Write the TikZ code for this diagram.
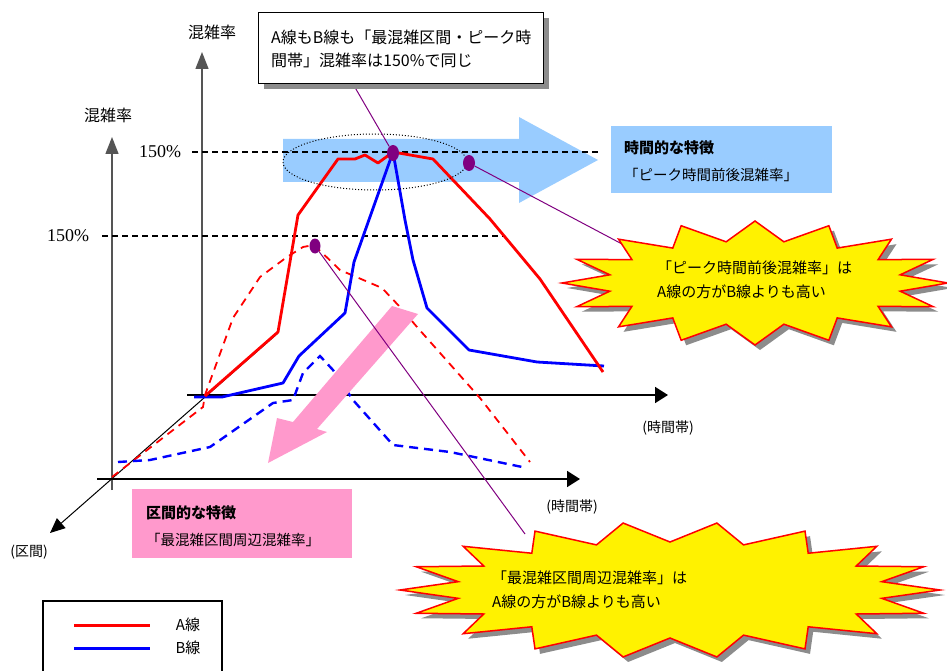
\documentclass[tikz,border=0pt]{standalone}
\usepackage{fontspec}
\setmainfont{Liberation Serif}
\newfontfamily\jpfont{Noto Sans CJK JP}
\usetikzlibrary{shapes.geometric,arrows.meta}
\definecolor{skyfill}{RGB}{153,204,255}
\definecolor{pinkfill}{RGB}{255,153,204}
\definecolor{markpurple}{RGB}{128,0,128}
\definecolor{axisgray}{RGB}{85,85,85}
\definecolor{shadowgray}{RGB}{140,140,140}
\tikzset{
  txt/.style={inner sep=0pt, anchor=west, font=\jpfont\fontsize{15}{19}\selectfont},
  boxtxt/.style={inner sep=0pt, anchor=west, font=\jpfont\fontsize{14.5}{18}\selectfont},
  axislbl/.style={inner sep=0pt, font=\jpfont\fontsize{16}{19}\selectfont},
  catlbl/.style={inner sep=0pt, font=\jpfont\fontsize{14}{17}\selectfont},
  pct/.style={inner sep=0pt, font=\rmfamily\fontsize{18}{20}\selectfont},
  vaxis/.style={draw=axisgray, line width=1.4pt, -{Triangle[length=17pt,width=13pt]}},
  haxis/.style={draw=black, line width=1.8pt, -{Triangle[length=13pt,width=16pt]}},
  daxis/.style={draw=black, line width=1pt, -{Triangle[length=15pt,width=13pt]}},
  levelline/.style={draw=black, line width=1.3pt, dash pattern=on 6pt off 4pt},
  lineA/.style={draw=red, line width=2.8pt, line join=round},
  lineB/.style={draw=blue, line width=2.8pt, line join=round},
  lineAd/.style={draw=red, line width=1.8pt, dash pattern=on 8pt off 6pt},
  lineBd/.style={draw=blue, line width=2.4pt, dash pattern=on 9pt off 6pt},
  marker/.style={ellipse, fill=markpurple, inner sep=0pt, minimum width=12pt, minimum height=16pt},
  leader/.style={draw=markpurple, line width=1pt},
  burst/.style={fill=yellow, draw=red, line width=1.5pt, line join=miter},
  burstshadow/.style={fill=shadowgray},
}
\begin{document}
\begin{tikzpicture}[x=1pt,y=-1pt]
\useasboundingbox (0,0) rectangle (947,671);

% wide blue arrow behind the back plane
\fill[skyfill] (283,139) -- (519,139) -- (519,117) -- (598,160) -- (519,203) -- (519,182) -- (283,182) -- cycle;

% back plane axes
\draw[vaxis] (202,397) -- (202,52);
\draw[haxis] (187,395) -- (668,395);
\draw[levelline] (192,152) -- (598,152);
% front plane axes
\draw[vaxis] (112,490) -- (112,137);
\draw[haxis] (97,479) -- (580,479);
\draw[levelline] (102,236) -- (503,236);
% depth axis
\draw[daxis] (278,333) -- (50,533);

% axis labels
\node[axislbl] (ylabback) at (212,32) {混雑率};
\node[axislbl] (ylabfront) at (108,115) {混雑率};
\node[pct] (pctback) at (160,152) {150\%};
\node[pct] (pctfront) at (68,236) {150\%};
\node[catlbl] (timeback) at (668,428) {(時間帯)};
\node[catlbl] (timefront) at (572,507) {(時間帯)};
\node[catlbl] (section) at (29,552) {(区間)};

% front plane curves (dashed)
\draw[lineAd] (112,477) -- (203,407) -- (205,395) -- (213,373) -- (233,318) -- (260,277) -- (287,257) -- (303,247) -- (314,245) -- (340,270) -- (382,288) -- (400,307) -- (417,327) -- (480,398) -- (530,462);
\draw[lineBd] (118,462) -- (150,460) -- (210,447) -- (223,438) -- (273,403) -- (293,400) -- (303,373) -- (320,356) -- (333,370) -- (353,400) -- (393,445) -- (450,452) -- (527,468);

% back plane curves (solid)
\draw[lineB] (194,397) -- (222,397) -- (283,383) -- (299,356) -- (345,313) -- (354,262) -- (393,152) -- (405,220) -- (413,260) -- (427,308) -- (469,350) -- (537,362) -- (604,366);
\draw[lineA] (205,396) -- (278,332) -- (298,215) -- (338,159) -- (355,159) -- (365,155) -- (378,163) -- (393,152) -- (433,159) -- (490,219) -- (540,279) -- (603,372);

% dotted ring round the peak
\draw[dotted, line width=1pt] (375,162) ellipse [x radius=92, y radius=28];

% pink arrow pointing toward the front
\fill[pinkfill] (392,306) -- (418,314) -- (317,429) -- (327,432) -- (268,463) -- (277,418) -- (293,422) -- cycle;

% markers
\node[marker] (peakdot) at (393,153) {};
\node[marker] (shoulderdot) at (469,163) {};
\node[marker, minimum width=11pt, minimum height=15pt] (frontdot) at (315,246) {};

% leader lines
\coordinate (calloutfoot) at (353,84);
\coordinate (upperfoot) at (622,244);
\coordinate (lowerfoot) at (525,534);
\draw[leader] (peakdot) -- (calloutfoot);
\draw[leader] (shoulderdot) -- (upperfoot);
\draw[leader] (frontdot) -- (lowerfoot);

% top callout
\fill[shadowgray] (264,18) rectangle (549,89);
\node[draw=black, line width=1.3pt, fill=white, anchor=north west, minimum width=285pt, minimum height=71pt, inner sep=0pt] (callout) at (258,12) {};
\node[txt, font=\jpfont\fontsize{16}{19}\selectfont] (calloutl1) at (271,37) {A線もB線も「最混雑区間・ピーク時};
\node[txt, font=\jpfont\fontsize{16}{19}\selectfont] (calloutl2) at (271,60) {間帯」混雑率は150\%で同じ};

% time feature box
\node[fill=skyfill, anchor=north west, minimum width=221pt, minimum height=67pt, inner sep=0pt] (timebox) at (611,126) {};
\node[boxtxt, font=\jpfont\bfseries\fontsize{15}{18}\selectfont] (timehead) at (624,148) {時間的な特徴};
\node[boxtxt] (timebody) at (624,175) {「ピーク時間前後混雑率」};

% section feature box
\node[fill=pinkfill, anchor=north west, minimum width=220pt, minimum height=69pt, inner sep=0pt] (secbox) at (132,489) {};
\node[boxtxt, font=\jpfont\bfseries\fontsize{15}{18}\selectfont] (sechead) at (146,513) {区間的な特徴};
\node[boxtxt] (secbody) at (146,540) {「最混雑区間周辺混雑率」};

% upper starburst
\fill[burstshadow] (953,288) \foreach \k in {1,...,31}{ -- ({760+cos(\k*11.25)*(193-isodd(\k)*45)},{288+sin(\k*11.25)*(62-isodd(\k)*20)}) } -- cycle;
\filldraw[burst] (948,283) \foreach \k in {1,...,31}{ -- ({755+cos(\k*11.25)*(193-isodd(\k)*45)},{283+sin(\k*11.25)*(62-isodd(\k)*20)}) } -- cycle;
\node[txt] (upperl1) at (657,268) {「ピーク時間前後混雑率」は};
\node[txt] (upperl2) at (657,292) {A線の方がB線よりも高い};

% lower starburst
\fill[burstshadow] (945,595) \foreach \k in {1,...,35}{ -- ({675+cos(\k*10)*(270-isodd(\k)*55)},{595+sin(\k*10)*(68-isodd(\k)*20)}) } -- cycle;
\filldraw[burst] (940,590) \foreach \k in {1,...,35}{ -- ({670+cos(\k*10)*(270-isodd(\k)*55)},{590+sin(\k*10)*(68-isodd(\k)*20)}) } -- cycle;
\node[txt] (lowerl1) at (492,578) {「最混雑区間周辺混雑率」は};
\node[txt] (lowerl2) at (492,602) {A線の方がB線よりも高い};

% legend
\draw[line width=1.4pt] (43,601) rectangle (222,690);
\coordinate (legAa) at (74,625);
\coordinate (legAb) at (150,625);
\coordinate (legBa) at (74,648);
\coordinate (legBb) at (150,648);
\draw[draw=red, line width=3pt] (legAa) -- (legAb);
\draw[draw=blue, line width=3pt] (legBa) -- (legBb);
\node[catlbl, font=\jpfont\fontsize{15}{18}\selectfont] (legA) at (188,625) {A線};
\node[catlbl, font=\jpfont\fontsize{15}{18}\selectfont] (legB) at (188,648) {B線};
\end{tikzpicture}
\end{document}
